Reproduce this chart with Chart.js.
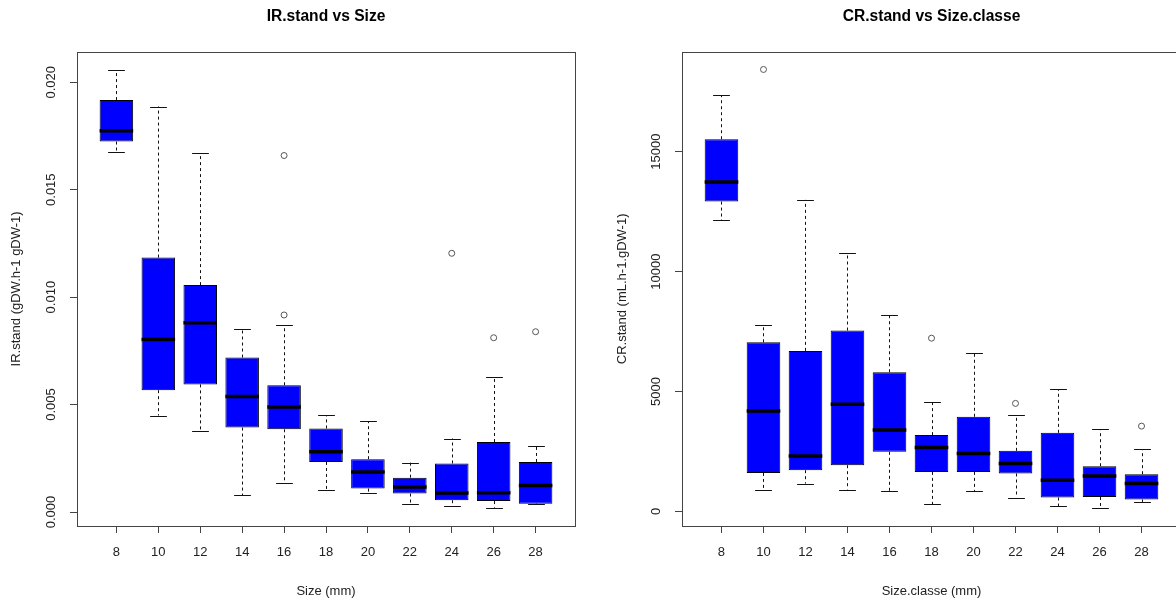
<!DOCTYPE html>
<html>
<head>
<meta charset="utf-8">
<script src="https://cdn.jsdelivr.net/npm/chart.js@4/dist/chart.umd.min.js"></script>
<style>
    html, body { margin: 0; padding: 0; background: #fff; overflow: hidden; width: 1176px; height: 602px; }
    #irChart { position: absolute; left: 0; top: 0; }
    #crChart { position: absolute; left: 588px; top: 0; }
</style>
</head>
<body>
<canvas id="irChart" width="588" height="602"></canvas>
<canvas id="crChart" width="600" height="602"></canvas>
<script>
// SIZE CLASSES (mm)
const sizes = ["8", "10", "12", "14", "16", "18", "20", "22", "24", "26", "28"];

// IR.stand box stats
const irLow  = [0.01675, 0.00449, 0.00376, 0.00078, 0.00137, 0.00104, 0.00089, 0.00039, 0.00027, 0.00020, 0.00036];
const irQ1   = [0.01724, 0.00567, 0.00594, 0.00393, 0.00385, 0.00233, 0.00109, 0.00086, 0.00055, 0.00051, 0.00039];
const irMed  = [0.01774, 0.00803, 0.00881, 0.00538, 0.00489, 0.00280, 0.00186, 0.00117, 0.00089, 0.00090, 0.00124];
const irQ3   = [0.01917, 0.01184, 0.01056, 0.00719, 0.00590, 0.00389, 0.00246, 0.00160, 0.00226, 0.00326, 0.00233];
const irHigh = [0.02055, 0.01887, 0.01670, 0.00851, 0.00870, 0.00450, 0.00423, 0.00230, 0.00342, 0.00629, 0.00308];
const irOutSize  = ["16", "16", "24", "26", "28"];
const irOutValue = [0.01659, 0.00917, 0.01204, 0.00811, 0.00839];
const irTicks = [0, 0.005, 0.010, 0.015, 0.020];
const irTickLabels = ["0.000", "0.005", "0.010", "0.015", "0.020"];

// CR.stand box stats
const crLow  = [12135, 907, 1157, 907, 836, 293, 836, 573, 222, 155, 389];
const crQ1   = [12920, 1600, 1714, 1923, 2480, 1643, 1643, 1576, 573, 598, 489];
const crMed  = [13740, 4180, 2310, 4460, 3386, 2663, 2412, 1994, 1296, 1476, 1158];
const crQ3   = [15520, 7050, 6690, 7540, 5800, 3177, 3942, 2521, 3273, 1881, 1547];
const crHigh = [17350, 7775, 12990, 10770, 8190, 4545, 6617, 4013, 5087, 3428, 2579];
const crOutSize  = ["10", "18", "22", "28"];
const crOutValue = [18430, 7220, 4500, 3553];
const crTicks = [0, 5000, 10000, 15000];
const crTickLabels = ["0", "5000", "10000", "15000"];

const FONT = "'Liberation Sans', Arial, sans-serif";
const TEXT = "#222";
const LINE = "#444";

Chart.defaults.font.family = FONT;
Chart.defaults.font.size = 13;
Chart.defaults.color = TEXT;

// whiskers, staples, medians, frame, rotated y labels
const boxParts = {
    id: "boxParts",
    beforeDatasetsDraw(chart, args, opts) {
        const ctx = chart.ctx;
        const y = chart.scales.y;
        const bars = chart.getDatasetMeta(0).data;
        ctx.save();
        ctx.strokeStyle = "#111";
        ctx.lineWidth = 1;
        bars.forEach((bar, i) => {
            const x = Math.round(bar.x) + 0.5;
            const half = bar.width / 4;
            const yHi = y.getPixelForValue(opts.high[i]);
            const yLo = y.getPixelForValue(opts.low[i]);
            const yQ3 = y.getPixelForValue(opts.q3[i]);
            const yQ1 = y.getPixelForValue(opts.q1[i]);
            ctx.setLineDash([3, 3]);
            ctx.beginPath();
            ctx.moveTo(x, yQ3); ctx.lineTo(x, yHi);
            ctx.moveTo(x, yQ1); ctx.lineTo(x, yLo);
            ctx.stroke();
            ctx.setLineDash([]);
            ctx.beginPath();
            ctx.moveTo(x - half, Math.round(yHi) + 0.5); ctx.lineTo(x + half, Math.round(yHi) + 0.5);
            ctx.moveTo(x - half, Math.round(yLo) + 0.5); ctx.lineTo(x + half, Math.round(yLo) + 0.5);
            ctx.stroke();
        });
        ctx.restore();
    },
    afterDatasetsDraw(chart, args, opts) {
        const ctx = chart.ctx;
        const y = chart.scales.y;
        const bars = chart.getDatasetMeta(0).data;
        ctx.save();
        ctx.strokeStyle = "#000";
        ctx.lineWidth = 3.5;
        bars.forEach((bar, i) => {
            const ym = y.getPixelForValue(opts.med[i]);
            ctx.beginPath();
            ctx.moveTo(bar.x - bar.width / 2, ym);
            ctx.lineTo(bar.x + bar.width / 2, ym);
            ctx.stroke();
        });
        ctx.restore();
    },
    afterDraw(chart, args, opts) {
        const ctx = chart.ctx;
        const a = chart.chartArea;
        const y = chart.scales.y;
        ctx.save();
        ctx.strokeStyle = LINE;
        ctx.lineWidth = 1;
        ctx.strokeRect(Math.round(a.left) + 0.5, Math.round(a.top) + 0.5,
            Math.round(a.right - a.left), Math.round(a.bottom - a.top));

        ctx.fillStyle = TEXT;
        ctx.font = "13px " + FONT;
        ctx.textAlign = "center";
        ctx.textBaseline = "middle";
        opts.ticks.forEach((v, i) => {
            ctx.save();
            ctx.translate(a.left - 26, y.getPixelForValue(v));
            ctx.rotate(-Math.PI / 2);
            ctx.fillText(opts.tickLabels[i], 0, 0);
            ctx.restore();
        });
        ctx.restore();
    }
};

function makeBoxChart(id, cfg) {
    const boxes = sizes.map((s, i) => ({ x: i + 1, y: [cfg.q1[i], cfg.q3[i]] }));
    const outliers = cfg.outSize.map((s, i) => ({ x: sizes.indexOf(s) + 1, y: cfg.outValue[i] }));

    return new Chart(document.getElementById(id), {
        type: "bar",
        data: {
            datasets: [
                {
                    data: boxes,
                    backgroundColor: "#0000ff",
                    borderColor: "#000",
                    borderWidth: 1,
                    borderSkipped: false,
                    barPercentage: 0.8,
                    categoryPercentage: 1
                },
                {
                    type: "scatter",
                    data: outliers,
                    pointStyle: "circle",
                    pointRadius: 3,
                    backgroundColor: "rgba(0,0,0,0)",
                    borderColor: "#555",
                    borderWidth: 1
                }
            ]
        },
        options: {
            responsive: false,
            animation: false,
            events: [],
            layout: { padding: { left: 0, right: cfg.padRight, top: 0, bottom: 0 } },
            plugins: {
                legend: { display: false },
                tooltip: { enabled: false },
                title: {
                    display: true,
                    text: cfg.title,
                    fullSize: false,
                    color: "#000",
                    font: { size: 15.6, weight: "bold" },
                    padding: { top: 7, bottom: 26 }
                },
                boxParts: {
                    low: cfg.low, q1: cfg.q1, med: cfg.med, q3: cfg.q3, high: cfg.high,
                    ticks: cfg.ticks, tickLabels: cfg.tickLabels
                }
            },
            scales: {
                x: {
                    type: "linear",
                    min: 0.06,
                    max: 11.94,
                    offset: false,
                    afterBuildTicks: scale => { scale.ticks = sizes.map((s, i) => ({ value: i + 1 })); },
                    afterFit: scale => { scale.height = 76; },
                    ticks: {
                        autoSkip: false,
                        maxRotation: 0,
                        padding: 12,
                        color: TEXT,
                        callback: v => sizes[v - 1]
                    },
                    grid: { offset: false, drawOnChartArea: false, drawTicks: true, tickLength: 7, color: LINE },
                    border: { display: false },
                    title: { display: true, text: cfg.xTitle, color: TEXT, padding: { top: 0, bottom: 2.5 } }
                },
                y: {
                    min: cfg.yMin,
                    max: cfg.yMax,
                    afterBuildTicks: scale => { scale.ticks = cfg.ticks.map(v => ({ value: v })); },
                    afterFit: scale => { scale.width = cfg.yWidth; },
                    ticks: { display: false },
                    grid: { drawOnChartArea: false, drawTicks: true, tickLength: 7, color: LINE },
                    border: { display: false },
                    title: { display: true, text: cfg.yTitle, color: TEXT, padding: { top: cfg.yTitlePad, bottom: 0 } }
                }
            }
        },
        plugins: [boxParts]
    });
}

makeBoxChart("irChart", {
    title: "IR.stand vs Size",
    xTitle: "Size (mm)",
    yTitle: "IR.stand (gDW.h-1 gDW-1)",
    low: irLow, q1: irQ1, med: irMed, q3: irQ3, high: irHigh,
    outSize: irOutSize, outValue: irOutValue,
    ticks: irTicks, tickLabels: irTickLabels,
    yMin: -0.00065, yMax: 0.02142,
    yWidth: 77, yTitlePad: 9, padRight: 13
});

makeBoxChart("crChart", {
    title: "CR.stand vs Size.classe",
    xTitle: "Size.classe (mm)",
    yTitle: "CR.stand (mL.h-1.gDW-1)",
    low: crLow, q1: crQ1, med: crMed, q3: crQ3, high: crHigh,
    outSize: crOutSize, outValue: crOutValue,
    ticks: crTicks, tickLabels: crTickLabels,
    yMin: -614, yMax: 19170,
    yWidth: 94, yTitlePad: 27, padRight: 7
});
</script>
</body>
</html>
